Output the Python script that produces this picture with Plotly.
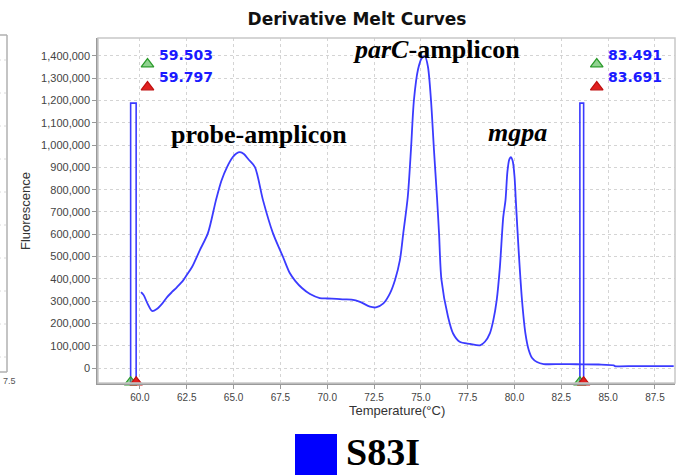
import plotly.graph_objects as go

# ---------------- data ----------------
temperature = [60.06, 60.2, 60.4, 60.65, 60.9, 61.2, 61.45, 61.7, 61.98, 62.3, 62.5, 62.78,
               63.2, 63.63, 64.06, 64.35, 64.65, 64.95, 65.15, 65.34, 65.55, 65.8, 66.14,
               66.57, 67.1, 67.64, 68.0, 68.3, 68.65, 69.08, 69.6, 70.0, 70.5, 70.9, 71.3,
               71.75, 72.28, 72.6, 73.0, 73.35, 73.62, 73.88, 74.06, 74.3, 74.47, 74.63,
               74.85, 75.05, 75.22, 75.38, 75.54, 75.7, 75.86, 75.97, 76.1, 76.45, 76.72,
               77.07, 77.63, 78.16, 78.42, 78.69, 78.87, 79.05, 79.22, 79.4, 79.52, 79.62,
               79.72, 79.8, 79.9, 80.0, 80.07, 80.22, 80.4, 80.58, 80.76, 80.94, 81.2,
               81.56, 82.5, 83.3, 84.5, 85.3, 85.35, 86.5, 88.5]
derivative = [341000, 327000, 290000, 256000, 265000, 290000, 318000, 340000, 363000, 392000,
              417000, 453000, 529000, 605000, 753000, 840000, 901000, 945000, 962000, 968000,
              960000, 935000, 901000, 753000, 605000, 498000, 426000, 390000, 359000, 332000,
              314000, 312000, 310000, 308000, 307000, 297000, 275000, 272000, 290000, 335000,
              395000, 484000, 604000, 767000, 978000, 1202000, 1340000, 1390000, 1398000,
              1350000, 1202000, 978000, 767000, 605000, 395000, 230000, 155000, 118000,
              108000, 102000, 118000, 157000, 215000, 305000, 454000, 678000, 753000, 880000,
              935000, 946000, 930000, 860000, 753000, 529000, 305000, 157000, 81000, 45000,
              27000, 18000, 18000, 17000, 16000, 12000, 9000, 9000, 9000]

left_cursors = [59.503, 59.797]
right_cursors = [83.491, 83.691]
cursor_height = 1188000

peak_labels = ["<b>probe-amplicon</b>", "<b><i>parC</i>-amplicon</b>", "<b><i>mgpa</i></b>"]
peak_label_x = [66.36, 75.83, 80.16]
peak_label_y = [1049000, 1430000, 1058000]

x_ticks = [60.0, 62.5, 65.0, 67.5, 70.0, 72.5, 75.0, 77.5, 80.0, 82.5, 85.0, 87.5]
y_ticks = list(range(0, 1400001, 100000))
x_range = [57.76, 88.57]
y_range = [-67000, 1480000]

sample_name = "S83I"

BLUE = "#3b3bff"
GREEN_FILL = "rgba(70,180,70,0.6)"
RED_FILL = "#e02020"
# ---------------- figure ----------------
fig = go.Figure()

fig.add_trace(go.Scatter(x=temperature, y=derivative, mode="lines",
                         line=dict(color=BLUE, width=1.8, shape="spline", smoothing=0.8),
                         showlegend=False, hoverinfo="skip"))

for pair in (left_cursors, right_cursors):
    fig.add_trace(go.Scatter(
        x=[pair[0], pair[0], pair[1], pair[1]],
        y=[y_range[0], cursor_height, cursor_height, y_range[0]],
        mode="lines", line=dict(color=BLUE, width=1.6), showlegend=False,
        hoverinfo="skip"))

# cursor triangles on the bottom axis
for pair in (left_cursors, right_cursors):
    fig.add_trace(go.Scatter(
        x=pair, y=[y_range[0] + 4000, y_range[0] + 4000], mode="markers", cliponaxis=False,
        marker=dict(symbol="triangle-up", size=11,
                    color=[GREEN_FILL, RED_FILL],
                    line=dict(color=["#2a9a2a", "#c01010"], width=1.2)),
        showlegend=False, hoverinfo="skip"))

# cursor triangles near the value labels
offset = 0.9
for pair in (left_cursors, right_cursors):
    fig.add_trace(go.Scatter(
        x=[pair[0] + offset, pair[0] + offset], y=[1363000, 1260000],
        mode="markers", cliponaxis=False,
        marker=dict(symbol="triangle-up", size=11,
                    color=[GREEN_FILL, RED_FILL],
                    line=dict(color=["#2a9a2a", "#c01010"], width=1.2)),
        showlegend=False, hoverinfo="skip"))

annotations = []
for pair in (left_cursors, right_cursors):
    for val, yv in zip(pair, [1404000, 1305000]):
        annotations.append(dict(x=pair[0], y=yv, xref="x", yref="y", xanchor="left",
                                yanchor="middle", xshift=26, showarrow=False,
                                text=f"<b>{val:.3f}</b>",
                                font=dict(family="DejaVu Sans", size=14, color="#1a1aff")))

for t, xv, yv in zip(peak_labels, peak_label_x, peak_label_y):
    annotations.append(dict(x=xv, y=yv, xref="x", yref="y", xanchor="center",
                            yanchor="middle", showarrow=False, text=t,
                            font=dict(family="Liberation Serif", size=26, color="black")))

def px(xp):
    return (xp - 98) / 577.0

def py(yp):
    return (383 - yp) / 345.0

annotations.append(dict(x=px(397), y=py(410), xref="paper", yref="paper",
                        xanchor="center", yanchor="middle", showarrow=False,
                        text="Temperature(°C)",
                        font=dict(family="Liberation Sans", size=13, color="#333")))
annotations.append(dict(x=px(26), y=py(211), xref="paper", yref="paper",
                        xanchor="center", yanchor="middle", showarrow=False,
                        text="Fluorescence", textangle=-90,
                        font=dict(family="Liberation Sans", size=13, color="#333")))
annotations.append(dict(x=px(1), y=py(381), xref="paper", yref="paper",
                        xanchor="left", yanchor="middle", showarrow=False,
                        text="7.5", font=dict(family="Liberation Sans", size=9, color="#555")))
annotations.append(dict(x=px(344), y=py(475), xref="paper", yref="paper",
                        xanchor="left", yanchor="bottom", showarrow=False,
                        text=f"<b>{sample_name}</b>",
                        font=dict(family="Liberation Serif", size=38, color="black")))

shapes = [
    # plot border (top/right lighter)
    dict(type="rect", xref="paper", yref="paper", x0=0, x1=1, y0=0, y1=1,
         line=dict(color="#c8c8c8", width=1.5), layer="above"),
    # legend colour square
    dict(type="rect", xref="paper", yref="paper", x0=px(295), x1=px(337),
         y0=py(478), y1=py(434), fillcolor="#0000ff", line=dict(color="#0000ff", width=0)),
    # left neighbour panel remnant
    dict(type="line", xref="paper", yref="paper", x0=px(7), x1=px(7), y0=py(372), y1=py(35),
         line=dict(color="#b0b0b0", width=1.5)),
    dict(type="line", xref="paper", yref="paper", x0=px(-2), x1=px(7), y0=py(35), y1=py(35),
         line=dict(color="#b0b0b0", width=1.5)),
    dict(type="line", xref="paper", yref="paper", x0=px(-2), x1=px(7), y0=py(372), y1=py(372),
         line=dict(color="#b0b0b0", width=1.5)),
]
for gy in [60, 93, 126, 159, 192, 225, 258, 291, 324, 357]:
    shapes.append(dict(type="line", xref="paper", yref="paper", x0=px(-2), x1=px(6),
                       y0=py(gy), y1=py(gy), line=dict(color="#d8d8d8", width=1, dash="dot")))

fig.update_layout(
    width=691, height=475,
    margin=dict(l=98, r=16, t=38, b=92),
    paper_bgcolor="white", plot_bgcolor="white",
    title=dict(text="<b>Derivative Melt Curves</b>", x=357 / 691, y=1 - 19 / 475,
               xanchor="center", yanchor="middle",
               font=dict(family="DejaVu Sans", size=17, color="#111")),
    annotations=annotations, shapes=shapes, showlegend=False,
)
fig.update_xaxes(range=x_range, tickvals=x_ticks, ticktext=[f"{v:.1f}" for v in x_ticks],
                 ticks="outside", ticklen=4, tickcolor="#999",
                 tickfont=dict(family="Liberation Sans", size=10, color="#444"),
                 showgrid=True, gridcolor="#d4d4d4", griddash="dot", gridwidth=1,
                 showline=True, linecolor="#9a9a9a", linewidth=2, zeroline=False)
fig.update_yaxes(range=y_range, tickvals=y_ticks, tickformat=",d",
                 ticks="outside", ticklen=4, tickcolor="#999",
                 tickfont=dict(family="Liberation Sans", size=11, color="#444"),
                 showgrid=True, gridcolor="#d4d4d4", griddash="dot", gridwidth=1,
                 showline=True, linecolor="#9a9a9a", linewidth=1.5, zeroline=False)

fig.write_html("out.html")
